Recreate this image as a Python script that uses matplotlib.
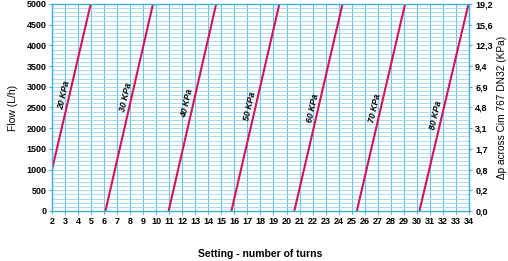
import numpy as np
import matplotlib.pyplot as plt
from matplotlib.ticker import MultipleLocator

plt.rcParams['font.family'] = ['Liberation Sans', 'DejaVu Sans']

# pressure curves: flow goes from start value at start turn up to 5000 at end turn
labels = ['20 KPa', '30 KPa', '40 KPa', '50 KPa', '60 KPa', '70 KPa', '80 KPa']
turn_start = [2.0, 6.1, 10.95, 15.77, 20.6, 25.4, 30.2]
flow_start = [1000, 0, 0, 0, 0, 0, 0]
turn_end = [4.97, 9.75, 14.6, 19.45, 24.3, 29.1, 33.97]
flow_end = [5000, 5000, 5000, 5000, 5000, 5000, 5000]
label_flow = [2800, 2760, 2600, 2520, 2480, 2480, 2320]

flow_ticks = [0, 500, 1000, 1500, 2000, 2500, 3000, 3500, 4000, 4500, 5000]
dp_labels = ['0,0', '0,2', '0,8', '1,7', '3,1', '4,8', '6,9', '9,4', '12,3', '15,6', '19,2']
turn_ticks = list(range(2, 35))

grid_v = '#6cc2e6'
grid_h = '#9ad6f0'
spine = '#3fb0e0'
red = '#d4145a'

fig = plt.figure(figsize=(5.08, 2.61), dpi=100)
ax = fig.add_axes([0.1024, 0.1916, 0.8206, 0.7931])

ax.set_xlim(2, 34)
ax.set_ylim(0, 5000)
ax.yaxis.set_minor_locator(MultipleLocator(100))
ax.set_xticks(turn_ticks)
ax.set_yticks(flow_ticks)
ax.grid(which='both', axis='y', color=grid_h, lw=0.6)
ax.grid(which='major', axis='x', color=grid_v, lw=0.8)
ax.set_axisbelow(True)
for s in ax.spines.values():
    s.set_color(spine)
    s.set_linewidth(1.0)
ax.tick_params(axis='both', which='major', labelsize=6.5, length=2.5, color=spine, pad=1.5)
ax.tick_params(axis='y', which='minor', length=0)
for t in ax.get_xticklabels() + ax.get_yticklabels():
    t.set_fontweight('bold')

# angle of the lines on screen
p0 = ax.transData.transform((turn_start[1], 0))
p1 = ax.transData.transform((turn_end[1], 5000))
ang = np.degrees(np.arctan2(p1[1] - p0[1], p1[0] - p0[0]))

for lab, x0, y0, x1, y1, yl in zip(labels, turn_start, flow_start, turn_end, flow_end, label_flow):
    ax.plot([x0, x1], [y0, y1], color=red, lw=1.5, solid_capstyle='butt')
    xl = x0 + (yl - y0) * (x1 - x0) / (y1 - y0) - 0.45
    ax.text(xl, yl, lab, rotation=ang, rotation_mode='anchor', ha='center', va='center',
            fontsize=6.3, fontweight='bold', fontstyle='italic')

ax.set_ylabel('Flow (L/h)', fontsize=7.5, labelpad=6)
ax.set_xlabel('Setting - number of turns', fontsize=7.5, fontweight='bold', labelpad=17)

ax2 = ax.twinx()
ax2.set_ylim(0, 5000)
ax2.set_yticks(flow_ticks)
ax2.set_yticklabels(dp_labels)
for s in ax2.spines.values():
    s.set_visible(False)
ax2.tick_params(axis='y', labelsize=6.5, length=2.5, color=spine, pad=2)
for t in ax2.get_yticklabels():
    t.set_fontweight('bold')
ax2.set_ylabel('\u0394p across Cim 767 DN32 (KPa)', fontsize=7.3, labelpad=3)

plt.savefig('out.png', dpi=100, facecolor='w')
